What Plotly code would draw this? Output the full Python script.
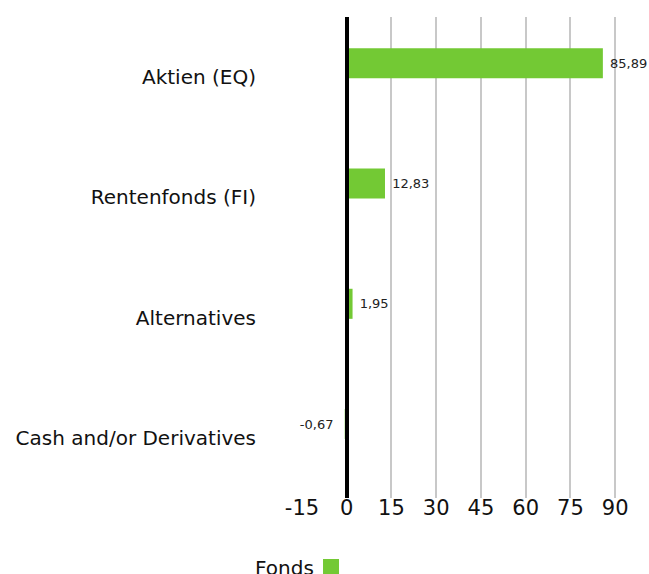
import plotly.graph_objects as go

categories = ["Aktien (EQ)", "Rentenfonds (FI)", "Alternatives", "Cash and/or Derivatives"]
values = [85.89, 12.83, 1.95, -0.67]
tick_vals = [-15, 0, 15, 30, 45, 60, 75, 90]
tick_text = ["-15", "0", "15", "30", "45", "60", "75", "90"]
series_name = "Fonds"
green = "#73C934"

templates = [" %{x:.2f}" if v >= 0 else "%{x:.2f}  " for v in values]

fig = go.Figure()
fig.add_trace(go.Bar(
    x=values, y=categories, orientation="h",
    marker=dict(color=green, line=dict(width=0)),
    offset=-0.24, width=0.25,
    texttemplate=templates, textposition="outside",
    textfont=dict(size=13, color="#222222", family="DejaVu Sans"),
    cliponaxis=False,
    showlegend=False,
))
# legend entry only (no data drawn)
fig.add_trace(go.Scatter(
    x=[None], y=[None], mode="markers", name="",
    marker=dict(symbol="square", size=20, color=green),
    showlegend=True,
))

xaxis_opts = dict(range=[-15, 97], tickvals=tick_vals, ticktext=tick_text, showgrid=True,
                  gridcolor="#c8c8c8", gridwidth=2,
                  zeroline=True, zerolinecolor="#000000", zerolinewidth=4,
                  tickfont=dict(size=21), showline=False, ticks="",
                  ticklabelstandoff=-5)

fig.update_layout(
    width=649, height=574,
    paper_bgcolor="white", plot_bgcolor="white",
    font=dict(family="DejaVu Sans", color="#111111"),
    separators=",.",
    margin=dict(l=302, r=13, t=17, b=76, autoexpand=False),
    xaxis=xaxis_opts,
    yaxis=dict(autorange="reversed", tickfont=dict(size=20),
               ticklabelstandoff=45, showgrid=False, ticks="",
               range=[3.5, -0.5]),
    legend=dict(orientation="h", x=0.027, xanchor="left",
                yref="container", y=0.0122, yanchor="middle",
                font=dict(size=20), itemsizing="trace"),
    annotations=[dict(text=series_name, xref="paper", yref="paper",
                      x=0.042, y=-0.1455, xanchor="right", yanchor="middle",
                      showarrow=False, font=dict(size=20))],
)
try:
    fig.update_xaxes(zerolinelayer="above traces")
except Exception:
    pass

fig.write_html(
    "out.html",
    config={"displayModeBar": False},
    post_script="document.body.style.margin='0';document.documentElement.style.overflow='hidden';document.body.style.overflow='hidden';",
)
